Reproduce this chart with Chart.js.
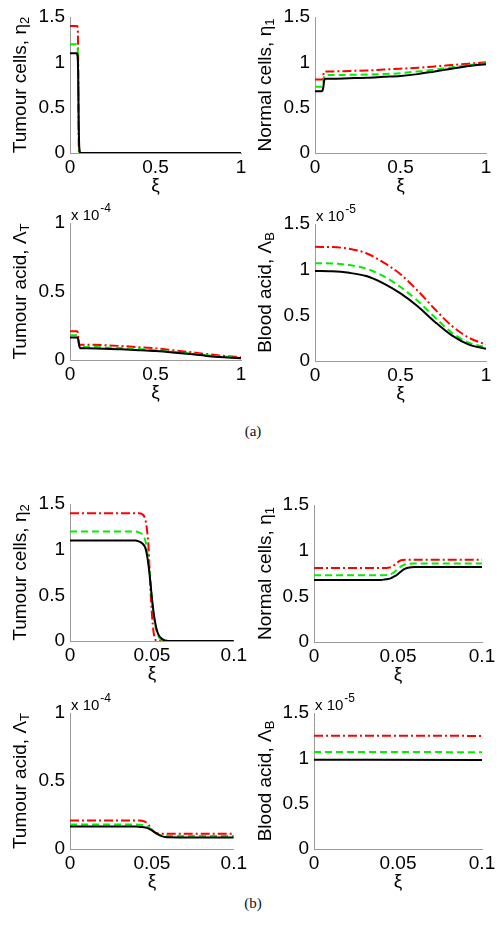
<!DOCTYPE html>
<html>
<head>
<meta charset="utf-8">
<script src="https://cdn.jsdelivr.net/npm/chart.js@4.4.0/dist/chart.umd.min.js"></script>
<style>
body{margin:0;background:#fff;width:503px;height:940px;position:relative;overflow:hidden}
canvas{position:absolute}
.cap{position:absolute;width:40px;text-align:center;font-family:"Liberation Serif",serif;font-size:15px;color:#111}
</style>
</head>
<body>
<div class="cap" style="left:233px;top:423px">(a)</div>
<div class="cap" style="left:233px;top:895px">(b)</div>
<script>
// grid of xi values shared by eta_2, eta_1 and Lambda_T
var xs = [0, 0.02, 0.04, 0.042, 0.044, 0.046, 0.047, 0.048, 0.049, 0.05, 0.051, 0.052, 0.053, 0.054,
          0.056, 0.058, 0.06, 0.07, 0.1, 0.2, 0.3, 0.4, 0.5, 0.6, 0.7, 0.8, 0.9, 1];

// tumour cells eta_2
var tumBlack = [1.1, 1.1, 1.1, 1.09, 1.07, 1.02, 0.94, 0.82, 0.66, 0.47, 0.32, 0.2, 0.12, 0.07,
                0.025, 0.006, 0, 0, 0, 0, 0, 0, 0, 0, 0, 0, 0, 0];
var tumGreen = [1.2, 1.2, 1.2, 1.19, 1.17, 1.1, 1.0, 0.86, 0.68, 0.48, 0.31, 0.18, 0.1, 0.05,
                0.01, 0, 0, 0, 0, 0, 0, 0, 0, 0, 0, 0, 0, 0];
var tumRed   = [1.4, 1.4, 1.4, 1.4, 1.39, 1.33, 1.22, 1.02, 0.6, 0.3, 0.1, 0.02, 0, 0,
                0, 0, 0, 0, 0, 0, 0, 0, 0, 0, 0, 0, 0, 0];

// normal cells eta_1
var normBlack = [0.68, 0.68, 0.68, 0.685, 0.69, 0.7, 0.71, 0.72, 0.73, 0.745, 0.76, 0.775, 0.79, 0.8,
                 0.812, 0.818, 0.82, 0.82, 0.82, 0.825, 0.83, 0.84, 0.85, 0.87, 0.9, 0.93, 0.96, 0.98];
var normGreen = [0.73, 0.73, 0.73, 0.732, 0.735, 0.745, 0.755, 0.77, 0.785, 0.8, 0.815, 0.83, 0.84, 0.848,
                 0.855, 0.858, 0.86, 0.86, 0.86, 0.862, 0.865, 0.87, 0.88, 0.9, 0.92, 0.945, 0.97, 0.99];
var normRed   = [0.81, 0.81, 0.81, 0.81, 0.812, 0.82, 0.83, 0.845, 0.86, 0.875, 0.887, 0.895, 0.898, 0.9,
                 0.9, 0.9, 0.9, 0.9, 0.9, 0.905, 0.91, 0.92, 0.93, 0.94, 0.955, 0.97, 0.985, 1.0];

// tumour acid Lambda_T, in units of 1e-4
var acidTBlack = [0.165, 0.165, 0.165, 0.164, 0.162, 0.158, 0.155, 0.15, 0.144, 0.137, 0.129, 0.121, 0.113, 0.106,
                  0.095, 0.089, 0.086, 0.085, 0.085, 0.083, 0.078, 0.072, 0.065, 0.055, 0.043, 0.03, 0.02, 0.012];
var acidTGreen = [0.18, 0.18, 0.18, 0.179, 0.177, 0.172, 0.167, 0.16, 0.151, 0.141, 0.131, 0.121, 0.113, 0.107,
                  0.1, 0.097, 0.096, 0.095, 0.095, 0.092, 0.087, 0.08, 0.072, 0.06, 0.048, 0.035, 0.024, 0.015];
var acidTRed   = [0.21, 0.21, 0.21, 0.209, 0.207, 0.2, 0.192, 0.178, 0.16, 0.142, 0.128, 0.12, 0.116, 0.114,
                  0.112, 0.112, 0.112, 0.112, 0.112, 0.108, 0.102, 0.094, 0.085, 0.072, 0.058, 0.043, 0.03, 0.02];

// blood acid Lambda_B, in units of 1e-5
var xsBlood = [0, 0.1, 0.2, 0.3, 0.4, 0.5, 0.6, 0.7, 0.8, 0.9, 1];
var acidBBlack = [0.985, 0.982, 0.965, 0.93, 0.85, 0.74, 0.6, 0.43, 0.28, 0.18, 0.135];
var acidBGreen = [1.07, 1.067, 1.05, 1.01, 0.93, 0.81, 0.66, 0.48, 0.31, 0.2, 0.15];
var acidBRed   = [1.25, 1.247, 1.23, 1.18, 1.08, 0.95, 0.77, 0.57, 0.385, 0.255, 0.18];

// tick labels
var xTicksA = [0, 0.5, 1];
var xTicksB = [0, 0.05, 0.1];
var yTicksCells = [0, 0.5, 1, 1.5];
var yTicksAcidT = [0, 0.5, 1];
var yTicksAcidB = [0, 0.5, 1, 1.5];

var FONT = '"Liberation Sans", Arial, sans-serif';

function lines(x, black, green, red) {
    var pts = function (ys) { return ys.map(function (y, i) { return {x: x[i], y: y}; }); };
    return [
        {data: pts(black), borderColor: '#000000', borderWidth: 2},
        {data: pts(green), borderColor: '#00f000', borderWidth: 2, borderDash: [7, 4]},
        {data: pts(red), borderColor: '#ff0000', borderWidth: 2, borderDash: [9, 3, 2, 3]}
    ];
}

var textPlugin = {
    id: 'texts',
    afterDraw: function (chart, args, o) {
        var ctx = chart.ctx, a = chart.chartArea;
        ctx.save();
        ctx.fillStyle = '#000';
        ctx.textBaseline = 'alphabetic';
        ctx.textAlign = 'left';
        // y title with subscript, rotated
        ctx.save();
        ctx.translate(o.titleX, (a.top + a.bottom) / 2);
        ctx.rotate(-Math.PI / 2);
        ctx.font = '19px ' + FONT;
        var w1 = ctx.measureText(o.title).width;
        ctx.font = '13px ' + FONT;
        var w2 = ctx.measureText(o.sub).width;
        var x0 = -(w1 + w2) / 2;
        ctx.font = '19px ' + FONT;
        ctx.fillText(o.title, x0, 0);
        ctx.font = '13px ' + FONT;
        ctx.fillText(o.sub, x0 + w1, 3);
        ctx.restore();
        // xi, baseline below the tick labels
        ctx.font = '19px ' + FONT;
        ctx.textAlign = 'center';
        ctx.textBaseline = 'alphabetic';
        ctx.fillText('\u03be', (a.left + a.right) / 2, a.bottom + 38);
        // exponent
        if (o.exp) {
            ctx.textAlign = 'left';
            ctx.font = '15px ' + FONT;
            ctx.fillText('x 10', a.left + 1, a.top - 3);
            var w = ctx.measureText('x 10').width;
            ctx.font = '12px ' + FONT;
            ctx.fillText(o.exp, a.left + 2 + w, a.top - 11);
        }
        ctx.restore();
    }
};

function panel(area, xmax, xticks, yticks, ymax, datasets, title, sub, titleX, exp) {
    var cx = area[0] < 250 ? 0 : 250;
    var cw = cx ? 253 : 250;
    var cy = area[1] - 30;
    var ch = area[3] + 50 - cy;
    var cv = document.createElement('canvas');
    cv.width = cw; cv.height = ch;
    cv.style.left = cx + 'px'; cv.style.top = cy + 'px';
    cv.style.width = cw + 'px'; cv.style.height = ch + 'px';
    document.body.appendChild(cv);
    var axis = function (ticks, min, max) {
        return {
            type: 'linear', min: min, max: max,
            afterBuildTicks: function (s) { s.ticks = ticks.map(function (v) { return {value: v}; }); },
            grid: {display: true, drawOnChartArea: false, drawTicks: false},
            border: {display: true, color: '#9a9a9a', width: 1},
            ticks: {color: '#000', font: {family: FONT, size: 19}, autoSkip: false, maxRotation: 0,
                    callback: function (v) { return String(v); }}
        };
    };
    var sx = axis(xticks, 0, xmax);
    sx.ticks.padding = 3;
    sx.afterFit = function (s) { s.height = 50; };
    var sy = axis(yticks, 0, ymax);
    sy.ticks.padding = 5;
    sy.afterFit = function (s) { s.width = area[0] - cx; };
    new Chart(cv, {
        type: 'line',
        data: {datasets: datasets},
        options: {
            responsive: false,
            animation: false,
            events: [],
            datasets: {line: {pointRadius: 0, fill: false, cubicInterpolationMode: 'monotone'}},
            layout: {autoPadding: false, padding: {top: 30, right: cx + cw - area[2], left: 0, bottom: 0}},
            plugins: {
                legend: {display: false},
                tooltip: {enabled: false},
                texts: {title: title, sub: sub, titleX: titleX - cx, exp: exp}
            },
            scales: {x: sx, y: sy}
        },
        plugins: [textPlugin]
    });
}

// (a) whole domain
panel([70, 17, 241, 153], 1, xTicksA, yTicksCells, 1.5, lines(xs, tumBlack, tumGreen, tumRed), 'Tumour cells, \u03b7', '2', 26, null);
panel([315, 17, 486, 153], 1, xTicksA, yTicksCells, 1.5, lines(xs, normBlack, normGreen, normRed), 'Normal cells, \u03b7', '1', 271, null);
panel([70, 223, 241, 360], 1, xTicksA, yTicksAcidT, 1, lines(xs, acidTBlack, acidTGreen, acidTRed), 'Tumour acid, \u039b', 'T', 26, '-4');
panel([315, 224, 486, 361], 1, xTicksA, yTicksAcidB, 1.5, lines(xsBlood, acidBBlack, acidBGreen, acidBRed), 'Blood acid, \u039b', 'B', 271, '-5');
// (b) zoom near the front
panel([70, 504, 240, 641], 0.1, xTicksB, yTicksCells, 1.5, lines(xs, tumBlack, tumGreen, tumRed), 'Tumour cells, \u03b7', '2', 26, null);
panel([314, 505, 482, 642], 0.1, xTicksB, yTicksCells, 1.5, lines(xs, normBlack, normGreen, normRed), 'Normal cells, \u03b7', '1', 271, null);
panel([70, 713, 240, 849], 0.1, xTicksB, yTicksAcidT, 1, lines(xs, acidTBlack, acidTGreen, acidTRed), 'Tumour acid, \u039b', 'T', 26, '-4');
panel([314, 713, 482, 849], 0.1, xTicksB, yTicksAcidB, 1.5, lines(xsBlood, acidBBlack, acidBGreen, acidBRed), 'Blood acid, \u039b', 'B', 271, '-5');
</script>
</body>
</html>
